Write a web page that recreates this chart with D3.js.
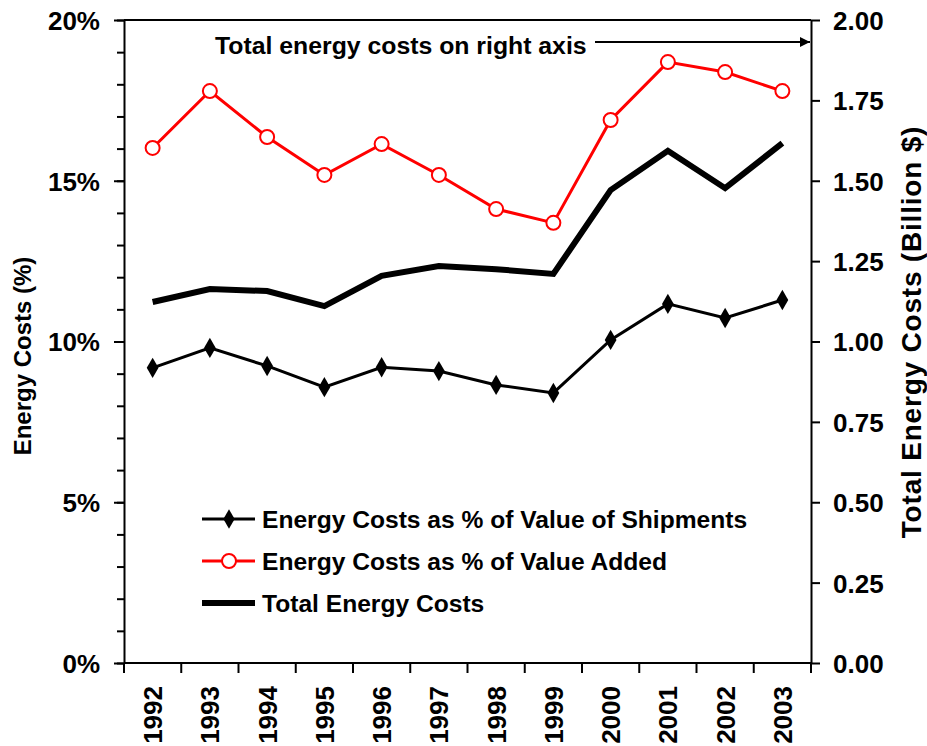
<!DOCTYPE html>
<html>
<head>
    <style>
        body { margin: 0; background: #fff; }
        svg text { font-family: "Liberation Sans", Arial, sans-serif; font-weight: bold; fill: #000; }
        .axis path, .axis line { stroke: #000; stroke-width: 2; }
    </style>
</head>
<body>
    <div id="chart"></div>
    <script src="https://d3js.org/d3.v7.min.js"></script>
    <script>
        // data
        var years = ["1992", "1993", "1994", "1995", "1996", "1997", "1998", "1999", "2000", "2001", "2002", "2003"];
        var pctShipments = [9.18, 9.80, 9.24, 8.58, 9.20, 9.08, 8.65, 8.40, 10.05, 11.17, 10.73, 11.29];
        var pctValueAdded = [16.02, 17.79, 16.36, 15.18, 16.14, 15.18, 14.12, 13.69, 16.89, 18.69, 18.38, 17.79];
        var totalCosts = [1.123, 1.163, 1.157, 1.110, 1.204, 1.235, 1.225, 1.210, 1.471, 1.593, 1.477, 1.617];
        var leftTicks = [0, 5, 10, 15, 20];
        var rightTicks = [0, 0.25, 0.5, 0.75, 1, 1.25, 1.5, 1.75, 2];

        var width = 927, height = 746;
        var margin = {top: 20, right: 116, bottom: 83, left: 124};
        var x0 = margin.left, x1 = width - margin.right;
        var y0 = height - margin.bottom, y1 = margin.top;

        var svg = d3.select("#chart").append("svg")
            .attr("width", width)
            .attr("height", height);

        var x = d3.scaleBand().domain(years).range([x0, x1]);
        var cx = function (d, i) { return x(years[i]) + x.bandwidth() / 2; };
        var yL = d3.scaleLinear().domain([0, 20]).range([y0, y1]);
        var yR = d3.scaleLinear().domain([0, 2]).range([y0, y1]);

        // top border
        svg.append("line")
            .attr("x1", x0).attr("x2", x1)
            .attr("y1", y1).attr("y2", y1)
            .attr("stroke", "#000").attr("stroke-width", 2);

        // left minor ticks
        svg.append("g").attr("class", "axis")
            .attr("transform", "translate(" + x0 + ",0)")
            .call(d3.axisLeft(yL).tickValues(d3.range(0, 21, 1)).tickSize(7).tickFormat(""))
            .select(".domain").remove();

        var gL = svg.append("g").attr("class", "axis")
            .attr("transform", "translate(" + x0 + ",0)")
            .call(d3.axisLeft(yL).tickValues(leftTicks).tickSize(10).tickSizeOuter(0).tickPadding(14)
                .tickFormat(function (d) { return d + "%"; }));
        gL.selectAll("text").style("font-size", "26px").attr("dy", "0.36em");

        var gR = svg.append("g").attr("class", "axis")
            .attr("transform", "translate(" + x1 + ",0)")
            .call(d3.axisRight(yR).tickValues(rightTicks).tickSize(9).tickSizeOuter(0).tickPadding(13)
                .tickFormat(d3.format(".2f")));
        gR.selectAll("text").style("font-size", "26px").attr("dy", "0.36em");

        // x axis: ticks on band edges, labels rotated
        var gX = svg.append("g").attr("class", "axis");
        gX.append("line")
            .attr("x1", x0).attr("x2", x1)
            .attr("y1", y0).attr("y2", y0);
        gX.selectAll(".tk")
            .data(years.concat(["end"]))
            .enter().append("line")
            .attr("x1", function (d) { return d === "end" ? x1 : x(d); })
            .attr("x2", function (d) { return d === "end" ? x1 : x(d); })
            .attr("y1", y0).attr("y2", y0 + 10);
        gX.selectAll("text")
            .data(years)
            .enter().append("text")
            .attr("transform", function (d) {
                return "translate(" + (x(d) + x.bandwidth() / 2) + "," + (y0 + 23) + ") rotate(-90)";
            })
            .attr("text-anchor", "end")
            .attr("dy", "0.36em")
            .style("font-size", "26px")
            .text(function (d) { return d; });

        // axis titles
        svg.append("text")
            .attr("transform", "translate(31," + 356 + ") rotate(-90)")
            .attr("text-anchor", "middle")
            .style("font-size", "24px")
            .text("Energy Costs (%)");
        svg.append("text")
            .attr("transform", "translate(921," + 332 + ") rotate(-90)")
            .attr("text-anchor", "middle")
            .style("font-size", "28px")
            .style("letter-spacing", "0.8px")
            .text("Total Energy Costs (Billion $)");

        // lines
        var lineL = d3.line().x(cx).y(function (d) { return yL(d); });
        var lineR = d3.line().x(cx).y(function (d) { return yR(d); });

        svg.append("path").datum(totalCosts)
            .attr("d", lineR).attr("fill", "none")
            .attr("stroke", "#000").attr("stroke-width", 6);

        svg.append("path").datum(pctShipments)
            .attr("d", lineL).attr("fill", "none")
            .attr("stroke", "#000").attr("stroke-width", 3);
        svg.selectAll(".ship")
            .data(pctShipments)
            .enter().append("path")
            .attr("class", "ship")
            .attr("d", d3.symbol().type(d3.symbolDiamond).size(120))
            .attr("transform", function (d, i) { return "translate(" + cx(d, i) + "," + yL(d) + ")"; })
            .attr("fill", "#000");

        svg.append("path").datum(pctValueAdded)
            .attr("d", lineL).attr("fill", "none")
            .attr("stroke", "#ff0000").attr("stroke-width", 3);
        svg.selectAll(".va")
            .data(pctValueAdded)
            .enter().append("circle")
            .attr("class", "va")
            .attr("cx", cx).attr("cy", function (d) { return yL(d); })
            .attr("r", 7)
            .attr("fill", "#fff").attr("stroke", "#ff0000").attr("stroke-width", 2);

        // annotation with arrow
        svg.append("defs").append("marker")
            .attr("id", "arrow").attr("viewBox", "0 0 10 10")
            .attr("refX", 10).attr("refY", 5)
            .attr("markerWidth", 5).attr("markerHeight", 5)
            .attr("orient", "auto")
            .append("path").attr("d", "M0,0L10,5L0,10z").attr("fill", "#000");
        svg.append("text")
            .attr("x", 215).attr("y", 54)
            .style("font-size", "24.8px")
            .text("Total energy costs on right axis");
        svg.append("line")
            .attr("x1", 595).attr("x2", x1 - 1)
            .attr("y1", 42).attr("y2", 42)
            .attr("stroke", "#000").attr("stroke-width", 2)
            .attr("marker-end", "url(#arrow)");

        // legend
        var legend = [
            {name: "Energy Costs as % of Value of Shipments", color: "#000", w: 3, mark: "diamond"},
            {name: "Energy Costs as % of Value Added", color: "#ff0000", w: 3, mark: "circle"},
            {name: "Total Energy Costs", color: "#000", w: 6, mark: null}
        ];
        var lg = svg.selectAll(".lg")
            .data(legend)
            .enter().append("g")
            .attr("class", "lg")
            .attr("transform", function (d, i) { return "translate(202," + (519 + i * 42) + ")"; });
        lg.append("line")
            .attr("x1", 0).attr("x2", 53)
            .attr("stroke", function (d) { return d.color; })
            .attr("stroke-width", function (d) { return d.w; });
        lg.filter(function (d) { return d.mark === "diamond"; })
            .append("path")
            .attr("d", d3.symbol().type(d3.symbolDiamond).size(110))
            .attr("transform", "translate(27,0)");
        lg.filter(function (d) { return d.mark === "circle"; })
            .append("circle")
            .attr("cx", 27).attr("r", 7)
            .attr("fill", "#fff").attr("stroke", "#ff0000").attr("stroke-width", 2);
        lg.append("text")
            .attr("x", 60).attr("dy", "0.36em")
            .style("font-size", "24.6px")
            .text(function (d) { return d.name; });
    </script>
</body>
</html>
